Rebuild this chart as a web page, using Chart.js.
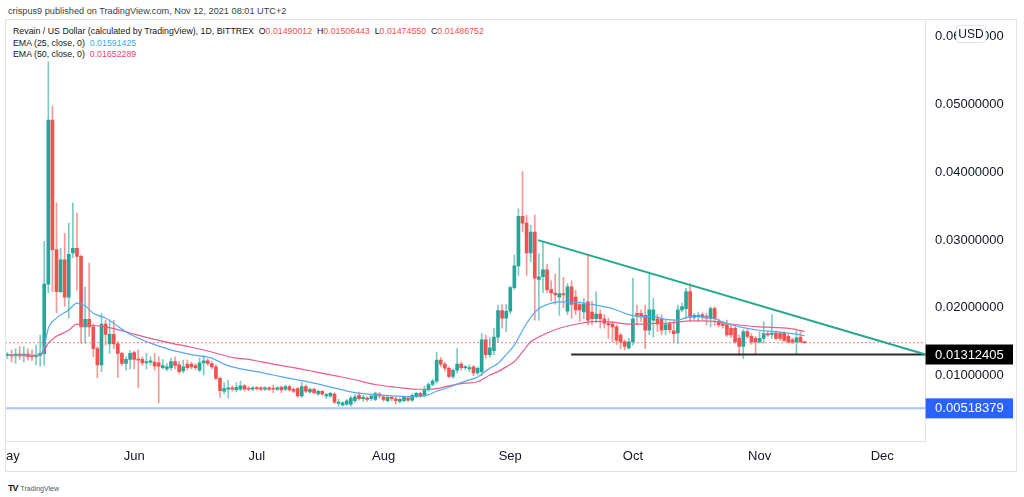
<!DOCTYPE html>
<html>
<head>
<meta charset="utf-8">
<script src="https://cdn.jsdelivr.net/npm/chart.js@4.4.1/dist/chart.umd.min.js"></script>
<style>
    html, body { margin: 0; padding: 0; background: #fff; }
    #page { position: relative; width: 1024px; height: 497px; overflow: hidden; font-family: 'Liberation Sans', Arial, sans-serif; color: #131722; }
    #pub { position: absolute; left: 8px; top: 6px; font-size: 9.2px; color: #3a3d45; white-space: nowrap; }
    .leg { position: absolute; left: 13px; font-size: 8.8px; white-space: nowrap; }
    #wrap { position: absolute; left: 5px; top: 19px; width: 1012px; height: 453px; }
    #frame { position: absolute; left: 5px; top: 19px; width: 1012px; height: 453px; box-sizing: border-box; border: 1px solid #e0e3eb; pointer-events: none; }
    #usd { position: absolute; left: 956px; top: 25px; width: 28px; height: 16px; background: #fff; border: 1px solid #e0e3eb; border-radius: 3px; font-size: 12px; line-height: 16px; text-align: center; }
    #logo { position: absolute; left: 8px; top: 483px; font-size: 7px; color: #50535e; white-space: nowrap; }
    #logo b { font-size: 9px; color: #131722; letter-spacing: -1px; margin-right: 3px; }
</style>
</head>
<body>
<div id="page">
    <div id="pub">crispus9 published on TradingView.com, Nov 12, 2021 08:01 UTC+2</div>
    <div class="leg" style="top:26px">Revain / US Dollar (calculated by TradingView), 1D, BITTREX&nbsp; O<span style="color:#ef5350">0.01490012</span>&nbsp; H<span style="color:#ef5350">0.01506443</span>&nbsp; L<span style="color:#ef5350">0.01474550</span>&nbsp; C<span style="color:#ef5350">0.01486752</span></div>
    <div class="leg" style="top:38px">EMA (25, close, 0)&nbsp; <span style="color:#42a5f5">0.01591425</span></div>
    <div class="leg" style="top:49px">EMA (50, close, 0)&nbsp; <span style="color:#ec3f73">0.01652289</span></div>
    <div id="wrap"><canvas id="chart" width="1012" height="453"></canvas></div>
    <div id="frame"></div>
    <div id="usd">USD</div>
    <div id="logo"><b>TV</b>TradingView</div>
</div>
<script>
// daily candles, day 0 = May 1 2021
const opens = [
    0.0130,0.0131,0.0129,0.0132,0.0129,0.0132,0.0129,0.0128,0.0130,0.0133,
    0.0235,0.0477,0.0286,0.0224,0.0271,0.0216,0.0281,0.0288,0.0276,0.0172,
    0.0183,0.0172,0.0140,0.0116,0.0176,0.0147,0.0161,0.0147,0.0133,0.0118,
    0.0124,0.0134,0.0124,0.0124,0.0119,0.0120,0.0120,0.0119,0.0112,0.0110,
    0.0112,0.0121,0.0116,0.0107,0.0117,0.0117,0.0115,0.0108,0.0119,0.0122,
    0.0118,0.0113,0.0096,0.0077,0.0080,0.0082,0.0079,0.0080,0.0085,0.0081,
    0.0080,0.0082,0.0082,0.0080,0.0082,0.0081,0.0080,0.0083,0.0080,0.0084,
    0.0080,0.0081,0.0070,0.0084,0.0076,0.0080,0.0073,0.0077,0.0070,0.0070,
    0.0073,0.0059,0.0057,0.0058,0.0058,0.0063,0.0071,0.0066,0.0067,0.0066,
    0.0065,0.0073,0.0069,0.0063,0.0068,0.0066,0.0062,0.0063,0.0067,0.0064,
    0.0070,0.0074,0.0070,0.0079,0.0087,0.0092,0.0123,0.0117,0.0111,0.0099,
    0.0108,0.0117,0.0112,0.0110,0.0113,0.0104,0.0106,0.0153,0.0131,0.0137,
    0.0157,0.0196,0.0185,0.0195,0.0230,0.0262,0.0335,0.0325,0.0281,0.0312,
    0.0242,0.0246,0.0256,0.0227,0.0222,0.0216,0.0221,0.0195,0.0231,0.0216,
    0.0205,0.0194,0.0209,0.0194,0.0184,0.0191,0.0184,0.0177,0.0176,0.0172,
    0.0160,0.0150,0.0141,0.0150,0.0192,0.0192,0.0189,0.0167,0.0182,0.0184,
    0.0183,0.0168,0.0176,0.0166,0.0163,0.0197,0.0199,0.0224,0.0186,0.0187,
    0.0190,0.0188,0.0184,0.0199,0.0180,0.0176,0.0175,0.0170,0.0170,0.0155,
    0.0143,0.0165,0.0158,0.0155,0.0150,0.0155,0.0162,0.0161,0.0163,0.0162,
    0.0163,0.0158,0.0153,0.0150,0.0157,0.01490012
];
const highs = [
    0.0135,0.0138,0.0140,0.0143,0.0143,0.0140,0.0138,0.0145,0.0160,0.0298,
    0.0563,0.0498,0.0355,0.0288,0.0310,0.0325,0.0355,0.0340,0.0278,0.0231,
    0.0266,0.0176,0.0143,0.0192,0.0182,0.0180,0.0182,0.0150,0.0135,0.0128,
    0.0137,0.0136,0.0138,0.0128,0.0133,0.0128,0.0133,0.0128,0.0124,0.0118,
    0.0126,0.0128,0.0121,0.0123,0.0123,0.0120,0.0118,0.0126,0.0130,0.0125,
    0.0121,0.0116,0.0098,0.0090,0.0093,0.0085,0.0090,0.0092,0.0087,0.0084,
    0.0084,0.0084,0.0084,0.0084,0.0084,0.0086,0.0084,0.0085,0.0086,0.0086,
    0.0082,0.0083,0.0090,0.0086,0.0082,0.0082,0.0079,0.0078,0.0074,0.0076,
    0.0075,0.0065,0.0062,0.0065,0.0070,0.0072,0.0076,0.0071,0.0069,0.0072,
    0.0076,0.0075,0.0071,0.0070,0.0070,0.0068,0.0067,0.0070,0.0069,0.0073,
    0.0076,0.0076,0.0085,0.0090,0.0095,0.0135,0.0127,0.0120,0.0113,0.0110,
    0.0140,0.0120,0.0115,0.0116,0.0115,0.0113,0.0162,0.0160,0.0156,0.0170,
    0.0204,0.0205,0.0205,0.0232,0.0278,0.0346,0.0401,0.0337,0.0322,0.0337,
    0.0280,0.0298,0.0264,0.0240,0.0250,0.0274,0.0245,0.0236,0.0240,0.0226,
    0.0209,0.0214,0.0278,0.0210,0.0224,0.0197,0.0190,0.0185,0.0180,0.0175,
    0.0163,0.0153,0.0155,0.0244,0.0204,0.0197,0.0204,0.0253,0.0214,0.0190,
    0.0190,0.0182,0.0180,0.0182,0.0204,0.0207,0.0229,0.0236,0.0192,0.0194,
    0.0193,0.0192,0.0202,0.0202,0.0184,0.0180,0.0182,0.0175,0.0174,0.0160,
    0.0168,0.0168,0.0162,0.0158,0.0165,0.0180,0.0165,0.0190,0.0166,0.0165,
    0.0165,0.0161,0.0156,0.0166,0.0165,0.01506443
];
const lows = [
    0.0125,0.0120,0.0118,0.0124,0.0120,0.0123,0.0122,0.0116,0.0114,0.0115,
    0.0222,0.0224,0.0193,0.0222,0.0202,0.0185,0.0274,0.0226,0.0148,0.0148,
    0.0158,0.0128,0.0097,0.0106,0.0145,0.0133,0.0140,0.0097,0.0115,0.0108,
    0.0110,0.0110,0.0082,0.0115,0.0110,0.0116,0.0108,0.0060,0.0110,0.0107,
    0.0108,0.0110,0.0103,0.0104,0.0108,0.0110,0.0109,0.0106,0.0101,0.0115,
    0.0110,0.0094,0.0068,0.0073,0.0067,0.0077,0.0076,0.0078,0.0077,0.0078,
    0.0078,0.0079,0.0078,0.0078,0.0078,0.0075,0.0078,0.0075,0.0078,0.0077,
    0.0075,0.0068,0.0068,0.0075,0.0074,0.0073,0.0071,0.0071,0.0066,0.0068,
    0.0059,0.0055,0.0055,0.0056,0.0055,0.0060,0.0064,0.0062,0.0062,0.0063,
    0.0063,0.0067,0.0062,0.0061,0.0063,0.0058,0.0060,0.0061,0.0062,0.0062,
    0.0068,0.0068,0.0069,0.0077,0.0085,0.0089,0.0113,0.0107,0.0097,0.0096,
    0.0104,0.0108,0.0109,0.0106,0.0100,0.0101,0.0100,0.0126,0.0127,0.0131,
    0.0150,0.0170,0.0165,0.0191,0.0227,0.0248,0.0312,0.0248,0.0268,0.0182,
    0.0182,0.0222,0.0222,0.0210,0.0205,0.0189,0.0200,0.0190,0.0185,0.0190,
    0.0180,0.0184,0.0175,0.0175,0.0178,0.0170,0.0170,0.0155,0.0150,0.0146,
    0.0140,0.0138,0.0139,0.0145,0.0175,0.0180,0.0140,0.0160,0.0157,0.0165,
    0.0160,0.0160,0.0163,0.0150,0.0148,0.0194,0.0184,0.0180,0.0182,0.0180,
    0.0182,0.0175,0.0172,0.0174,0.0172,0.0170,0.0158,0.0156,0.0148,0.0130,
    0.0125,0.0155,0.0146,0.0133,0.0148,0.0148,0.0158,0.0155,0.0153,0.0152,
    0.0150,0.0148,0.0147,0.0133,0.0149,0.01474550
];
const closes = [
    0.0131,0.0129,0.0132,0.0129,0.0132,0.0128,0.0128,0.0130,0.0133,0.0235,
    0.0477,0.0286,0.0224,0.0271,0.0216,0.0279,0.0288,0.0276,0.0172,0.0183,
    0.0172,0.0140,0.0116,0.0176,0.0161,0.0161,0.0147,0.0133,0.0118,0.0124,
    0.0133,0.0124,0.0123,0.0119,0.0121,0.0122,0.0114,0.0114,0.0115,0.0113,
    0.0121,0.0115,0.0106,0.0113,0.0112,0.0113,0.0112,0.0119,0.0122,0.0118,
    0.0113,0.0096,0.0078,0.0081,0.0082,0.0080,0.0083,0.0085,0.0080,0.0080,
    0.0082,0.0081,0.0080,0.0082,0.0080,0.0080,0.0082,0.0079,0.0084,0.0079,
    0.0077,0.0070,0.0084,0.0077,0.0080,0.0075,0.0077,0.0073,0.0072,0.0074,
    0.0061,0.0061,0.0060,0.0063,0.0067,0.0069,0.0066,0.0068,0.0065,0.0070,
    0.0074,0.0070,0.0065,0.0068,0.0066,0.0063,0.0065,0.0068,0.0064,0.0071,
    0.0074,0.0070,0.0079,0.0087,0.0092,0.0123,0.0117,0.0111,0.0099,0.0108,
    0.0117,0.0112,0.0113,0.0112,0.0104,0.0111,0.0153,0.0131,0.0141,0.0157,
    0.0196,0.0185,0.0195,0.0230,0.0262,0.0335,0.0325,0.0281,0.0312,0.0244,
    0.0246,0.0256,0.0227,0.0222,0.0219,0.0221,0.0219,0.0231,0.0205,0.0197,
    0.0197,0.0206,0.0182,0.0184,0.0191,0.0184,0.0177,0.0175,0.0172,0.0152,
    0.0150,0.0143,0.0150,0.0184,0.0189,0.0187,0.0167,0.0197,0.0197,0.0176,
    0.0167,0.0175,0.0168,0.0162,0.0197,0.0202,0.0224,0.0186,0.0189,0.0189,
    0.0186,0.0185,0.0199,0.0184,0.0175,0.0174,0.0160,0.0160,0.0150,0.0143,
    0.0165,0.0158,0.0150,0.0150,0.0155,0.0162,0.0160,0.0163,0.0155,0.0155,
    0.0152,0.0150,0.0150,0.0156,0.0150,0.01486752
];

// EMA readings (day, value)
const ema25Days = [0,8,9,10,12,15,17,19,21,24,27,30,35,40,45,50,53,57,60,65,70,75,80,85,90,95,100,103,105,108,112,115,118,120,122,124,126,128,130,132,135,140,144,148,152,155,158,161,164,167,170,173,176,180,184,188,192,195];
const ema25Vals = [0.0130,0.0130,0.0143,0.0170,0.0185,0.0197,0.0207,0.0203,0.0192,0.0185,0.0173,0.0161,0.0148,0.0138,0.0131,0.0126,0.0117,0.0110,0.0107,0.0101,0.0095,0.0089,0.0082,0.0075,0.0072,0.0070,0.0069,0.0072,0.0077,0.0083,0.0092,0.0098,0.0111,0.0118,0.0131,0.0145,0.0167,0.0186,0.0199,0.0205,0.0209,0.0208,0.0204,0.0199,0.0190,0.0187,0.0187,0.0183,0.0182,0.0187,0.0187,0.0184,0.0177,0.0171,0.0167,0.0165,0.0162,0.01591425];
const ema50Days = [0,8,9,10,12,15,17,19,21,24,27,30,35,40,45,50,55,60,65,70,75,80,85,90,95,100,103,105,108,112,115,118,120,122,124,126,128,130,132,135,140,144,148,152,155,158,161,164,167,170,173,176,180,184,188,192,195];
const ema50Vals = [0.0130,0.0130,0.0137,0.0148,0.0158,0.0167,0.0176,0.0175,0.0174,0.0172,0.0168,0.0163,0.0155,0.0148,0.0142,0.0135,0.0127,0.0123,0.0117,0.0112,0.0106,0.0100,0.0094,0.0087,0.0083,0.0080,0.0080,0.0081,0.0085,0.0089,0.0091,0.0101,0.0106,0.0113,0.0121,0.0135,0.0150,0.0157,0.0163,0.0170,0.0177,0.0180,0.0179,0.0176,0.0176,0.0177,0.0177,0.0179,0.0181,0.0181,0.0180,0.0177,0.0174,0.0172,0.0171,0.0169,0.01652289];

// drawings
const trendDays = [129.8, 224.6];
const trendVals = [0.0300, 0.01312405];
const supportDays = [137.9, 224.6];
const supportLevel = 0.01312405;
const lowLevel = 0.00518379;
const lastPrice = 0.01486752;

const monthTicks = [0, 31, 61, 92, 123, 153, 184, 214];
const monthLabels = ['May', 'Jun', 'Jul', 'Aug', 'Sep', 'Oct', 'Nov', 'Dec'];
const priceTicks = [0.01, 0.02, 0.03, 0.04, 0.05, 0.06];

const X_MIN = -0.6, X_MAX = 224.6;
const Y_MIN = 0.000265, Y_MAX = 0.06261;

const GREEN = '#26a69a', RED = '#ef5350';
const days = opens.map((_, i) => i);

function candleColor(i, alpha) {
    const up = closes[i] >= opens[i];
    if (alpha) return up ? 'rgba(38,166,154,' + alpha + ')' : 'rgba(239,83,80,' + alpha + ')';
    return up ? GREEN : RED;
}

function hLine(x0, x1, v) {
    return [{ x: x0, y: v }, { x: x1, y: v }];
}

const axisLabels = {
    id: 'axisLabels',
    afterDraw(chart) {
        const c = chart.ctx, y = chart.scales.y, area = chart.chartArea;
        const boxes = [
            { v: supportLevel, bg: '#000000' },
            { v: lowLevel, bg: '#2962ff' }
        ];
        c.save();
        c.font = '13px "Liberation Sans", Arial, sans-serif';
        c.textBaseline = 'middle';
        boxes.forEach(b => {
            const py = y.getPixelForValue(b.v);
            c.fillStyle = b.bg;
            c.fillRect(area.right, py - 10, chart.width - area.right - 4, 20);
            c.fillStyle = '#ffffff';
            c.fillText(b.v.toFixed(8), area.right + 9.5, py + 0.5);
        });
        c.restore();
    }
};

const ctx = document.getElementById('chart').getContext('2d');
Chart.defaults.font.family = '"Liberation Sans", Arial, sans-serif';

new Chart(ctx, {
    type: 'bar',
    data: {
        datasets: [
            {
                type: 'line', order: 1,
                data: trendDays.map((d, i) => ({ x: d, y: trendVals[i] })),
                borderColor: '#22a88f', borderWidth: 2, pointRadius: 0
            },
            {
                type: 'line', order: 1,
                data: hLine(supportDays[0], supportDays[1], supportLevel),
                borderColor: '#2a2a2a', borderWidth: 2, pointRadius: 0
            },
            {
                type: 'line', order: 2,
                data: hLine(X_MIN, X_MAX, lowLevel),
                borderColor: '#a8c2fa', borderWidth: 2, pointRadius: 0
            },
            {
                type: 'line', order: 2,
                data: hLine(X_MIN, X_MAX, lastPrice),
                borderColor: 'rgba(239,83,80,0.75)', borderWidth: 1, borderDash: [2, 2], pointRadius: 0
            },
            {
                type: 'line', order: 3,
                data: ema25Days.map((d, i) => ({ x: d, y: ema25Vals[i] })),
                borderColor: '#55a9f3', borderWidth: 1.2, pointRadius: 0, cubicInterpolationMode: 'monotone'
            },
            {
                type: 'line', order: 3,
                data: ema50Days.map((d, i) => ({ x: d, y: ema50Vals[i] })),
                borderColor: '#ee5c86', borderWidth: 1.2, pointRadius: 0, cubicInterpolationMode: 'monotone'
            },
            {
                order: 5, grouped: false,
                data: days.map(d => ({ x: d, y: [opens[d], closes[d]] })),
                backgroundColor: c => candleColor(c.dataIndex),
                barThickness: 3, minBarLength: 1, borderWidth: 0
            },
            {
                order: 6, grouped: false,
                data: days.map(d => ({ x: d, y: [lows[d], highs[d]] })),
                backgroundColor: c => candleColor(c.dataIndex, 0.6),
                barThickness: 1, borderWidth: 0
            }
        ]
    },
    options: {
        responsive: false,
        animation: false,
        layout: { padding: 0 },
        plugins: { legend: { display: false }, tooltip: { enabled: false } },
        scales: {
            x: {
                type: 'linear', position: 'bottom', min: X_MIN, max: X_MAX, offset: false,
                grid: { display: false, drawTicks: false, offset: false },
                border: { color: '#e0e3eb' },
                afterBuildTicks: s => { s.ticks = monthTicks.map(v => ({ value: v })); },
                afterFit: s => { s.height = 30.3; s.paddingLeft = 0; s.paddingRight = 0; },
                ticks: {
                    autoSkip: false, maxRotation: 0, padding: 7,
                    color: '#131722', font: { size: 13 },
                    callback: v => monthLabels[monthTicks.indexOf(v)]
                }
            },
            y: {
                type: 'linear', position: 'right', min: Y_MIN, max: Y_MAX,
                grid: { display: false, drawTicks: false },
                border: { color: '#e0e3eb' },
                afterBuildTicks: s => { s.ticks = priceTicks.map(v => ({ value: v })); },
                afterFit: s => { s.width = 91.4; s.paddingTop = 0; s.paddingBottom = 0; },
                ticks: {
                    padding: 9.5, color: '#131722', font: { size: 13 },
                    callback: v => v.toFixed(8)
                }
            }
        }
    },
    plugins: [axisLabels]
});
</script>
</body>
</html>
